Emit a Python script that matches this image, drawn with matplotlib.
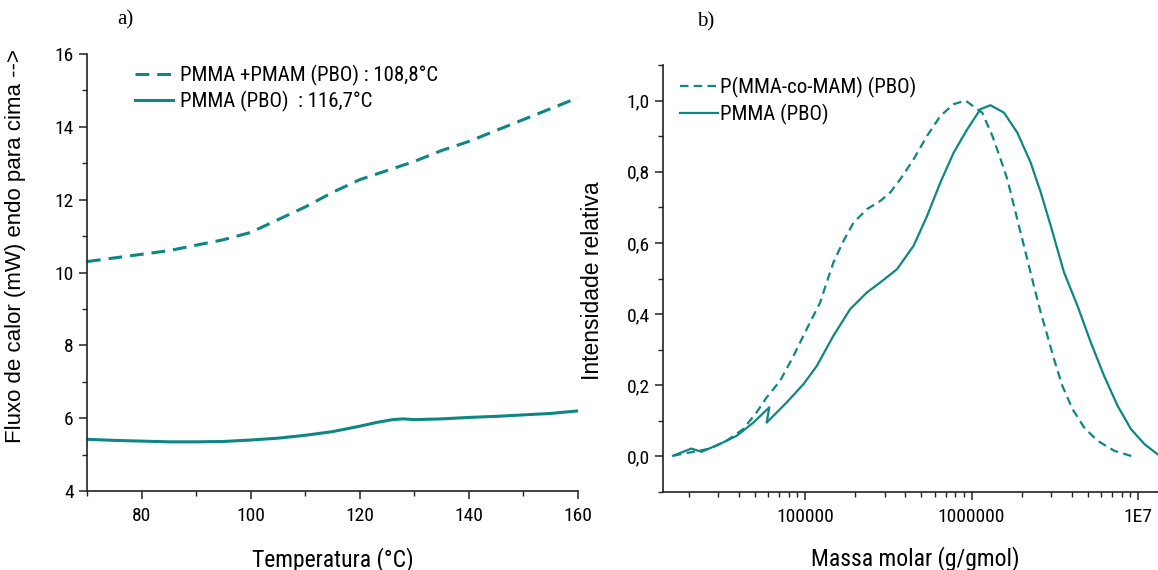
import matplotlib
matplotlib.use("Agg")
import matplotlib.pyplot as plt
from matplotlib.ticker import MultipleLocator, FixedLocator, FuncFormatter, LogLocator, NullFormatter
import numpy as np

# ---------------- data: panel a) DSC ----------------
temp_dashed = [70, 75, 80, 85, 90, 95, 100, 105, 110, 115, 120, 125, 130, 135, 140, 145, 150, 155, 160]
flux_dashed = [10.3, 10.4, 10.5, 10.6, 10.75, 10.9, 11.1, 11.45, 11.8, 12.2, 12.55, 12.8, 13.05, 13.35,
               13.6, 13.9, 14.2, 14.5, 14.8]
temp_solid = [70, 75, 80, 85, 90, 95, 100, 105, 110, 115, 120, 123, 126, 128, 130, 135, 140, 145, 150, 155, 160]
flux_solid = [5.42, 5.39, 5.37, 5.35, 5.35, 5.36, 5.4, 5.45, 5.53, 5.63, 5.78, 5.88, 5.96, 5.98, 5.96, 5.98,
              6.02, 6.05, 6.09, 6.13, 6.2]
label_a_dashed = "PMMA +PMAM (PBO) : 108,8°C"
label_a_solid = "PMMA (PBO)  : 116,7°C"

# ---------------- data: panel b) GPC ----------------
mass_solid = [16100, 20750, 23880, 30760, 38820, 48870, 60950, 58750, 77620, 97720, 117500, 147900,
              186600, 214300, 235500, 283100, 356500, 448700, 540800, 650100, 781600, 941900,
              1132000, 1300000, 1567000, 1884000, 2265000, 2606000, 2992000, 3597000, 4335000,
              5212000, 6266000, 7551000, 9078000, 10910000, 13120000]
int_solid = [0.002, 0.022, 0.013, 0.035, 0.058, 0.095, 0.138, 0.095, 0.152, 0.203, 0.254, 0.339,
             0.414, 0.442, 0.461, 0.489, 0.526, 0.592, 0.676, 0.770, 0.854, 0.919,
             0.976, 0.987, 0.966, 0.910, 0.826, 0.742, 0.648, 0.517, 0.423,
             0.320, 0.226, 0.142, 0.077, 0.035, 0.006]
mass_dashed = [16100, 20280, 26790, 33730, 42460, 51170, 58750, 70630, 83180, 95500, 109600, 123000,
               138000, 147900, 170200, 195400, 235500, 283100, 325100, 373300, 448700, 540800,
               650100, 781600, 920400, 1159000, 1334000, 1496000, 1641000, 1799000, 1972000,
               2163000, 2371000, 2606000, 2858000, 3133000, 3516000, 4046000, 4753000, 5715000,
               7194000, 9290000]
int_dashed = [0.002, 0.011, 0.022, 0.044, 0.077, 0.124, 0.166, 0.212, 0.273, 0.330, 0.386, 0.432,
              0.503, 0.545, 0.606, 0.657, 0.695, 0.718, 0.742, 0.779, 0.835, 0.901,
              0.957, 0.990, 1.0, 0.966, 0.901, 0.835, 0.779, 0.704, 0.629,
              0.554, 0.479, 0.404, 0.339, 0.273, 0.198, 0.133, 0.081, 0.044,
              0.016, 0.000]
label_b_dashed = "P(MMA-co-MAM) (PBO)"
label_b_solid = "PMMA (PBO)"

TEAL = "#0e8784"
NARROW = ["Arial Narrow", "Liberation Sans Narrow", "Roboto Condensed", "Archivo Narrow", "DejaVu Sans"]
REG = ["Arial", "Arimo", "Liberation Sans", "DejaVu Sans"]
SERIF = ["Times New Roman", "Liberation Serif", "DejaVu Serif"]

W, H = 1158, 570
fig = plt.figure(figsize=(W / 100, H / 100), dpi=100)

def box(x0, x1, ytop, ybot):
    return [x0 / W, 1 - ybot / H, (x1 - x0) / W, (ybot - ytop) / H]

ax1 = fig.add_axes(box(87, 578, 54, 491))
ax2 = fig.add_axes(box(663, 1158, 65, 492))

for ax in (ax1, ax2):
    for s in ("top", "right"):
        ax.spines[s].set_visible(False)
    for s in ("left", "bottom"):
        ax.spines[s].set_linewidth(1.2)
        ax.spines[s].set_color("#222222")
    ax.tick_params(which="major", direction="out", length=6, width=1.1, color="#222222",
                   labelsize=14)
    ax.tick_params(which="minor", direction="out", length=3.6, width=1.0, color="#222222")
    ax.tick_params(axis="x", which="major", pad=5.5)
    ax.tick_params(axis="y", which="major", pad=3.5)

# ---- panel a
ax1.plot(temp_dashed, flux_dashed, color=TEAL, lw=2.2, dashes=(4.5, 2.6), label=label_a_dashed)
ax1.plot(temp_solid, flux_solid, color=TEAL, lw=2.2, label=label_a_solid)
ax1.set_xlim(70, 160)
ax1.set_ylim(4, 16)
ax1.xaxis.set_major_locator(FixedLocator([80, 100, 120, 140, 160]))
ax1.xaxis.set_minor_locator(FixedLocator([70, 90, 110, 130, 150]))
ax1.yaxis.set_major_locator(MultipleLocator(2))
ax1.yaxis.set_minor_locator(MultipleLocator(1))
ax1.set_xlabel("Temperatura (°C)", family=NARROW, fontsize=17)
ax1.xaxis.set_label_coords(0.501, -0.156)
ax1.xaxis.label.set_va("center")
ax1.set_ylabel("Fluxo de calor (mW) endo para cima -->", family=REG, fontsize=16)
ax1.yaxis.set_label_coords(-0.145, 0.56)
ax1.yaxis.label.set_va("center")
leg1 = ax1.legend(loc="upper left", bbox_to_anchor=(0.098, 0.975), frameon=False,
                  prop={"family": NARROW, "size": 15}, handlelength=1.83, handletextpad=0.34,
                  labelspacing=0.23, borderaxespad=0, borderpad=0)

# ---- panel b
ax2.plot(mass_dashed, int_dashed, color=TEAL, lw=1.6, dashes=(3.8, 2.4), label=label_b_dashed)
ax2.plot(mass_solid, int_solid, color=TEAL, lw=1.6, label=label_b_solid)
ax2.set_xscale("log")
ax2.set_xlim(1.4e4, 1.32e7)
ax2.set_ylim(-0.1, 1.1)
ax2.xaxis.set_major_locator(FixedLocator([1e5, 1e6, 1e7]))
ax2.xaxis.set_major_formatter(FuncFormatter(lambda v, p: {1e5: "100000", 1e6: "1000000", 1e7: "1E7"}.get(v, "")))
ax2.xaxis.set_minor_locator(LogLocator(base=10, subs=np.arange(2, 10)))
ax2.xaxis.set_minor_formatter(NullFormatter())
ax2.yaxis.set_major_locator(FixedLocator([0.0, 0.2, 0.4, 0.6, 0.8, 1.0]))
ax2.yaxis.set_major_formatter(FuncFormatter(lambda v, p: f"{v:.1f}".replace(".", ",")))
ax2.yaxis.set_minor_locator(FixedLocator([-0.1, 0.1, 0.3, 0.5, 0.7, 0.9, 1.1]))
ax2.set_xlabel("Massa molar (g/gmol)", family=NARROW, fontsize=17)
ax2.xaxis.set_label_coords(0.509, -0.155)
ax2.xaxis.label.set_va("center")
ax2.set_ylabel("Intensidade relativa", family=REG, fontsize=16.5)
ax2.yaxis.set_label_coords(-0.143, 0.496)
ax2.yaxis.label.set_va("center")
leg2 = ax2.legend(loc="upper left", bbox_to_anchor=(0.034, 0.972), frameon=False,
                  prop={"family": NARROW, "size": 15}, handlelength=1.83, handletextpad=0.1,
                  labelspacing=0.26, borderaxespad=0, borderpad=0)

fig.canvas.draw()
for ax in (ax1, ax2):
    for lab in ax.get_xticklabels() + ax.get_yticklabels():
        lab.set_family(NARROW)

fig.text(125 / W, 1 - 20 / H, "a)", family=SERIF, fontsize=15, ha="center", va="center")
fig.text(706 / W, 1 - 22 / H, "b)", family=SERIF, fontsize=15, ha="center", va="center")

fig.savefig("out.png", dpi=100)
